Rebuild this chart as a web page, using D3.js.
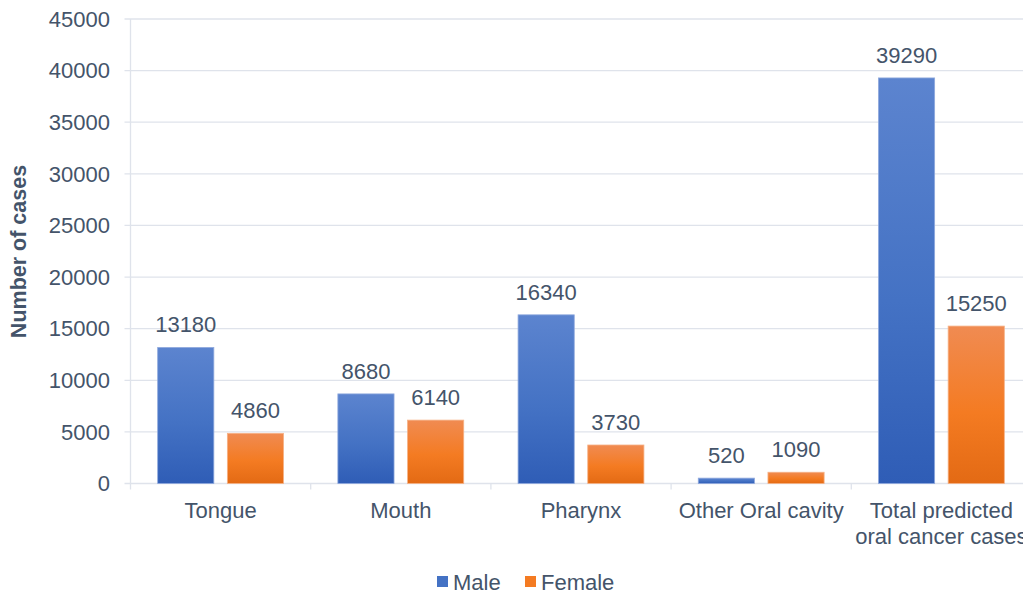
<!DOCTYPE html>
<html>
<head>
<meta charset="utf-8">
<script src="https://cdn.jsdelivr.net/npm/d3@7"></script>
<style>
  html, body { margin: 0; padding: 0; background: #fff; }
  svg { display: block; font-family: "Liberation Sans", Arial, sans-serif; }
</style>
</head>
<body>
<svg id="chart" width="1023" height="595"></svg>
<script>
const categories = [["Tongue"], ["Mouth"], ["Pharynx"], ["Other Oral cavity"], ["Total predicted", "oral cancer cases"]];
const seriesNames = ["Male", "Female"];
const maleValues = [13180, 8680, 16340, 520, 39290];
const femaleValues = [4860, 6140, 3730, 1090, 15250];
const yTicks = [0, 5000, 10000, 15000, 20000, 25000, 30000, 35000, 40000, 45000];

const textColor = "#44546a";
const gridColor = "#dfe3eb";
const fs = 22;

const svg = d3.select("#chart");
const defs = svg.append("defs");
const gradSpecs = [
  { id: "gMale", top: "#5c84cf", mid: "#4472c4", bottom: "#2f5db6" },
  { id: "gFemale", top: "#f08b52", mid: "#f47b22", bottom: "#e36a14" }
];
gradSpecs.forEach(g => {
  const lg = defs.append("linearGradient").attr("id", g.id)
    .attr("x1", 0).attr("y1", 0).attr("x2", 0).attr("y2", 1);
  lg.append("stop").attr("offset", "0%").attr("stop-color", g.top);
  lg.append("stop").attr("offset", "55%").attr("stop-color", g.mid);
  lg.append("stop").attr("offset", "100%").attr("stop-color", g.bottom);
});

const plotLeft = 130.5, plotRight = 1031.5, plotTop = 19, plotBottom = 483.5;

const x = d3.scaleBand().domain(d3.range(categories.length)).range([plotLeft, plotRight]).padding(0);
const xs = d3.scaleBand().domain(seriesNames).range([0, x.bandwidth()]).paddingInner(0.194).paddingOuter(0.39);
const y = d3.scaleLinear().domain([0, 45000]).range([plotBottom, plotTop]);

// gridlines
svg.append("g").selectAll("line").data(yTicks).join("line")
  .attr("x1", plotLeft - 6).attr("x2", plotRight)
  .attr("y1", d => y(d)).attr("y2", d => y(d))
  .attr("stroke", gridColor).attr("stroke-width", 1.3);

// vertical axis line
svg.append("line").attr("x1", plotLeft).attr("x2", plotLeft)
  .attr("y1", plotTop).attr("y2", plotBottom + 6)
  .attr("stroke", gridColor).attr("stroke-width", 1.3);

// x tick marks between categories
svg.append("g").selectAll("line").data(d3.range(1, categories.length)).join("line")
  .attr("x1", i => x(i)).attr("x2", i => x(i))
  .attr("y1", plotBottom).attr("y2", plotBottom + 6)
  .attr("stroke", gridColor).attr("stroke-width", 1.3);

// y tick labels
svg.append("g").selectAll("text").data(yTicks).join("text")
  .attr("x", 110).attr("y", d => y(d)).attr("dy", "0.35em")
  .attr("text-anchor", "end").attr("font-size", fs).attr("fill", textColor)
  .text(d => d);

// bars
const data = [];
categories.forEach((c, i) => {
  data.push({ i, s: "Male", v: maleValues[i], fill: "url(#gMale)" });
  data.push({ i, s: "Female", v: femaleValues[i], fill: "url(#gFemale)" });
});
svg.append("g").selectAll("rect").data(data).join("rect")
  .attr("x", d => x(d.i) + xs(d.s))
  .attr("width", xs.bandwidth())
  .attr("y", d => y(d.v))
  .attr("height", d => y(0) - y(d.v))
  .attr("fill", d => d.fill)
  .attr("stroke", d => d.s === "Male" ? "#8fa9dd" : "#f6b185")
  .attr("stroke-width", 0.8);

// value labels
svg.append("g").selectAll("text").data(data).join("text")
  .attr("x", d => x(d.i) + xs(d.s) + xs.bandwidth() / 2)
  .attr("y", d => y(d.v) - 15)
  .attr("text-anchor", "middle").attr("font-size", fs).attr("fill", textColor)
  .text(d => d.v);

// category labels
const catG = svg.append("g").selectAll("text").data(categories).join("text")
  .attr("text-anchor", "middle").attr("font-size", fs).attr("fill", textColor);
catG.each(function(lines, i) {
  const t = d3.select(this);
  lines.forEach((ln, k) => {
    t.append("tspan").attr("x", x(i) + x.bandwidth() / 2).attr("y", 518 + k * 26).text(ln);
  });
});

// y axis title
svg.append("text")
  .attr("transform", "translate(26,251.5) rotate(-90)")
  .attr("text-anchor", "middle").attr("font-size", 21.5).attr("font-weight", "bold")
  .attr("fill", textColor).text("Number of cases");

// legend
const legend = [
  { name: "Male", color: "#4472c4", x: 437 },
  { name: "Female", color: "#f47b22", x: 525 }
];
const lg = svg.append("g").selectAll("g").data(legend).join("g")
  .attr("transform", d => `translate(${d.x},0)`);
lg.append("rect").attr("x", 0).attr("y", 576).attr("width", 11).attr("height", 11)
  .attr("fill", d => d.color);
lg.append("text").attr("x", 16).attr("y", 590).attr("font-size", fs)
  .attr("fill", textColor).text(d => d.name);
</script>
</body>
</html>
